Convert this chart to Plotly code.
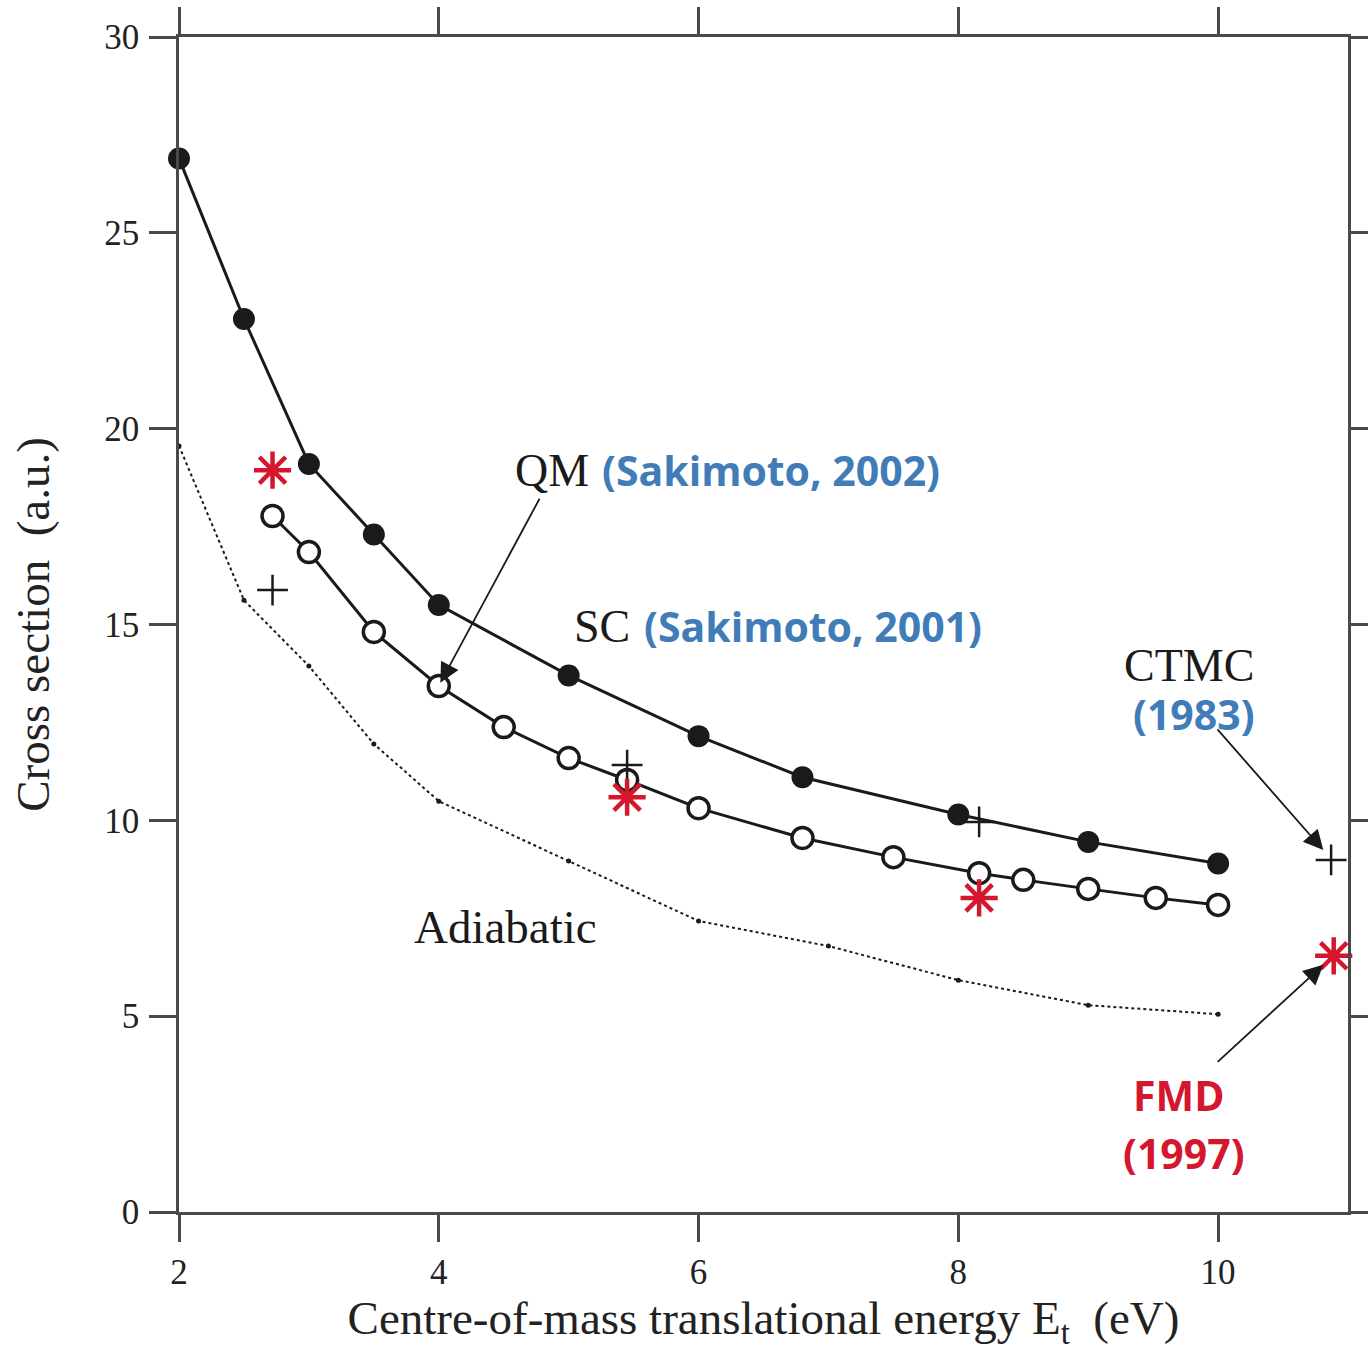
import plotly.graph_objects as go

# ---- data ----
sc_x = [2.0, 2.5, 3.0, 3.5, 4.0, 5.0, 6.0, 6.8, 8.0, 9.0, 10.0]
sc_y = [26.9, 22.8, 19.1, 17.3, 15.5, 13.7, 12.15, 11.1, 10.15, 9.45, 8.9]

qm_x = [2.72, 3.0, 3.5, 4.0, 4.5, 5.0, 5.45, 6.0, 6.8, 7.5, 8.16, 8.5, 9.0, 9.52, 10.0]
qm_y = [17.77, 16.85, 14.81, 13.43, 12.38, 11.59, 11.03, 10.31, 9.55, 9.06, 8.65, 8.48, 8.25, 8.02, 7.84]

ad_x = [2.0, 2.5, 3.0, 3.5, 4.0, 5.0, 6.0, 7.0, 8.0, 9.0, 10.0]
ad_y = [19.56, 15.62, 13.94, 11.95, 10.49, 8.96, 7.43, 6.79, 5.92, 5.28, 5.05]

ctmc_x = [2.72, 5.45, 8.16, 10.87]
ctmc_y = [15.88, 11.41, 9.96, 8.99]

fmd_x = [2.72, 5.45, 8.16, 10.89]
fmd_y = [18.94, 10.59, 8.02, 6.54]

x_ticks = [2, 4, 6, 8, 10]
y_ticks = [0, 5, 10, 15, 20, 25, 30]

BLACK = "#1a1a1a"
BLUE = "#3f7cb8"
RED = "#d4172d"
AXIS = "#4a4a4a"
SERIF = "Liberation Serif, Times New Roman, serif"
SANS = "Open Sans, sans-serif"

fig = go.Figure()

fig.add_trace(go.Scatter(
    x=ad_x, y=ad_y, mode="lines+markers",
    line=dict(color=BLACK, width=2, dash="dot"),
    marker=dict(symbol="circle", size=5, color=BLACK),
    cliponaxis=False, showlegend=False))

fig.add_trace(go.Scatter(
    x=sc_x, y=sc_y, mode="lines+markers",
    line=dict(color=BLACK, width=3),
    marker=dict(symbol="circle", size=22, color=BLACK, line=dict(width=0)),
    cliponaxis=False, showlegend=False))

fig.add_trace(go.Scatter(
    x=qm_x, y=qm_y, mode="lines+markers",
    line=dict(color=BLACK, width=3),
    marker=dict(symbol="circle", size=21, color="white", line=dict(color=BLACK, width=3.5)),
    cliponaxis=False, showlegend=False))

fig.add_trace(go.Scatter(
    x=ctmc_x, y=ctmc_y, mode="markers",
    marker=dict(symbol="cross-thin-open", size=22, color=BLACK, line=dict(color=BLACK, width=2.5)),
    cliponaxis=False, showlegend=False))

fig.add_trace(go.Scatter(
    x=fmd_x, y=fmd_y, mode="markers",
    marker=dict(symbol="asterisk-open", size=31, color=RED, line=dict(color=RED, width=4.5)),
    cliponaxis=False, showlegend=False))

annotations = [
    # text labels
    dict(x=4.574, y=18.94, text="QM", xanchor="left", yanchor="middle",
         font=dict(family=SERIF, size=46, color=BLACK)),
    dict(x=5.245, y=18.94, text="<b>(Sakimoto, 2002)</b>", xanchor="left", yanchor="middle",
         font=dict(family=SANS, size=41, color=BLUE)),
    dict(x=5.029, y=14.96, text="SC", xanchor="left", yanchor="middle",
         font=dict(family=SERIF, size=46, color=BLACK)),
    dict(x=5.561, y=14.96, text="<b>(Sakimoto, 2001)</b>", xanchor="left", yanchor="middle",
         font=dict(family=SANS, size=41, color=BLUE)),
    dict(x=9.776, y=13.95, text="CTMC", xanchor="center", yanchor="middle",
         font=dict(family=SERIF, size=46, color=BLACK)),
    dict(x=9.815, y=12.72, text="<b>(1983)</b>", xanchor="center", yanchor="middle",
         font=dict(family=SANS, size=41, color=BLUE)),
    dict(x=9.70, y=2.99, text="<b>FMD</b>", xanchor="center", yanchor="middle",
         font=dict(family=SANS, size=41, color=RED)),
    dict(x=9.74, y=1.51, text="<b>(1997)</b>", xanchor="center", yanchor="middle",
         font=dict(family=SANS, size=41, color=RED)),
    dict(x=3.796, y=7.28, text="Adiabatic", xanchor="left", yanchor="middle",
         font=dict(family=SERIF, size=47, color=BLACK)),
]
for a in annotations:
    a.update(xref="x", yref="y", showarrow=False)

arrows = [
    dict(x=4.012, y=13.51, ax=4.782, ay=18.25),
    dict(x=10.81, y=9.24, ax=9.985, ay=12.36),
    dict(x=10.81, y=6.31, ax=9.985, ay=3.80),
]
for a in arrows:
    a.update(xref="x", yref="y", axref="x", ayref="y", text="", showarrow=True,
             arrowhead=2, arrowsize=2.2, arrowwidth=1.8, arrowcolor=BLACK, standoff=0)
    annotations.append(a)

axis_common = dict(
    showline=True, linecolor=AXIS, linewidth=2.5, mirror="allticks",
    ticks="outside", ticklen=27, tickwidth=2.5, tickcolor=AXIS,
    showgrid=False, zeroline=False, automargin=False,
    tickfont=dict(family=SERIF, size=35, color="#222"),
)

fig.update_layout(
    width=1368, height=1352,
    margin=dict(l=179, r=20, t=37, b=140),
    paper_bgcolor="white", plot_bgcolor="white",
    xaxis=dict(range=[2, 11], tickvals=x_ticks, ticktext=[str(v) for v in x_ticks],
               ticklabelstandoff=0,
               title=dict(text="Centre-of-mass translational energy E<sub>t</sub>  (eV)",
                          font=dict(family=SERIF, size=47, color="#222"), standoff=6),
               **axis_common),
    yaxis=dict(range=[0, 30], tickvals=y_ticks, ticktext=[str(v) for v in y_ticks],
               ticklabelstandoff=3,
               title=dict(text="Cross section  (a.u.)",
                          font=dict(family=SERIF, size=47, color="#222"), standoff=40),
               **axis_common),
    annotations=annotations,
)

fig.write_html("out.html")
